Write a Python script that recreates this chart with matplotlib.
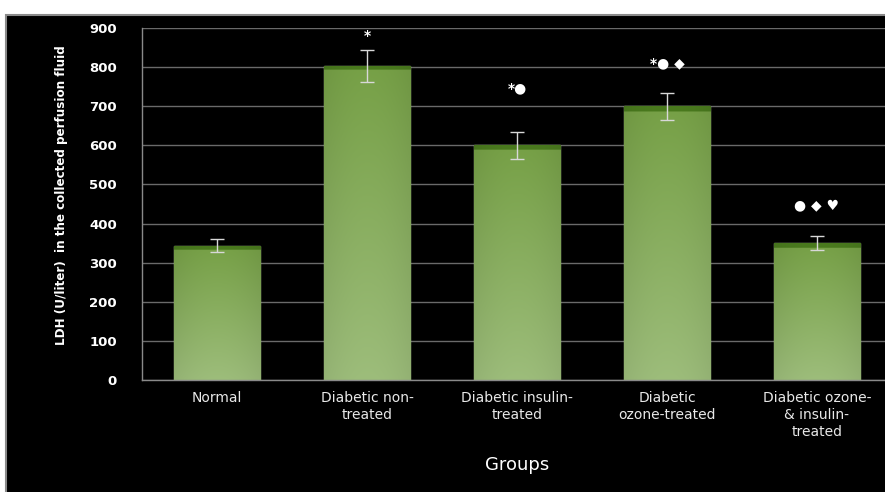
import numpy as np
import matplotlib
matplotlib.use("Agg")
import matplotlib.pyplot as plt
from matplotlib.patches import Rectangle
from matplotlib.colors import to_rgb

categories = ["Normal", "Diabetic non-\ntreated", "Diabetic insulin-\ntreated",
              "Diabetic\nozone-treated", "Diabetic ozone-\n& insulin-\ntreated"]
values = [343, 803, 600, 700, 350]
errors = [17, 41, 35, 35, 17]
annotations = ["", "*", "*\u25cf", "*\u25cf \u25c6", "\u25cf \u25c6 \u2665"]
annot_y = [0, 880, 747, 811, 447]
yticks = [0, 100, 200, 300, 400, 500, 600, 700, 800, 900]

W, H = 885, 492
fig = plt.figure(figsize=(W / 100, H / 100), dpi=100, facecolor="white")
# black panel with grey border
fig.patches.append(Rectangle((6 / W, -0.01), 1.0, 1.01 - 15 / H, transform=fig.transFigure,
                             facecolor="black", edgecolor="#8a8a8a", linewidth=1.5,
                             zorder=-5))

ax = fig.add_axes([142 / W, 1 - 380 / H, 750 / W, 352 / H])
ax.set_facecolor("black")
ax.patch.set_alpha(0)
x = np.arange(len(categories))
bars = ax.bar(x, values, width=0.575, color="#86ab5c", edgecolor="#b0cd92",
              linewidth=1.0, zorder=2)

top_c = np.array(to_rgb("#76a046"))
bot_c = np.array(to_rgb("#9dbd7b"))
band_c = np.array(to_rgb("#4a7a1e"))
for b in bars:
    x0, w, h = b.get_x(), b.get_width(), b.get_height()
    n = 200
    ys = np.linspace(h, 0, n)
    frac = ys / h
    cols = bot_c[None, :] * (1 - frac[:, None]) + top_c[None, :] * frac[:, None]
    band = ys > h - 12
    cols[band] = band_c
    nx = 60
    xs = np.linspace(-1, 1, nx)
    shade = 1 - 0.06 * xs ** 2
    img = cols[:, None, :] * shade[None, :, None]
    img = np.clip(img, 0, 1)
    im = ax.imshow(img, extent=[x0, x0 + w, 0, h], aspect="auto", zorder=2.5,
                   interpolation="bilinear")
    im.set_clip_path(b)

ax.errorbar(x, values, yerr=errors, fmt="none", ecolor="#d8d8d8", elinewidth=1.0,
            capsize=5, capthick=1.0, zorder=4)

for xi, txt, ty in zip(x, annotations, annot_y):
    if txt:
        ax.text(xi, ty, txt, ha="center", va="center", color="white",
                fontsize=10, fontweight="bold", zorder=5)

ax.set_xlim(-0.5, len(categories) - 0.5)
ax.set_ylim(0, 900)
ax.set_yticks(yticks)
ax.set_yticklabels([str(t) for t in yticks], color="white", fontsize=9.5,
                   fontweight="bold")
ax.set_xticks(x)
ax.set_xticklabels(categories, color="#e8e8e8", fontsize=10, linespacing=1.25)
ax.tick_params(axis="both", length=0, pad=8)
ax.tick_params(axis="y", pad=18)
ax.grid(axis="y", color="#6a6a6a", linewidth=1.0, zorder=1)
ax.set_axisbelow(True)
for s in ["top", "right"]:
    ax.spines[s].set_visible(False)
for s in ["left", "bottom"]:
    ax.spines[s].set_color("#8a8a8a")
    ax.spines[s].set_linewidth(1.0)

fig.text(517 / W, 1 - 465 / H, "Groups", ha="center", va="center", color="white",
         fontsize=13)
fig.text(62 / W, 1 - 195 / H, "LDH (U/liter)  in the collected perfusion fluid",
         rotation=90, ha="center", va="center", color="white", fontsize=9.5,
         fontweight="bold", family="DejaVu Sans", fontstretch="condensed")

fig.savefig("out.png", dpi=100, facecolor="white")
